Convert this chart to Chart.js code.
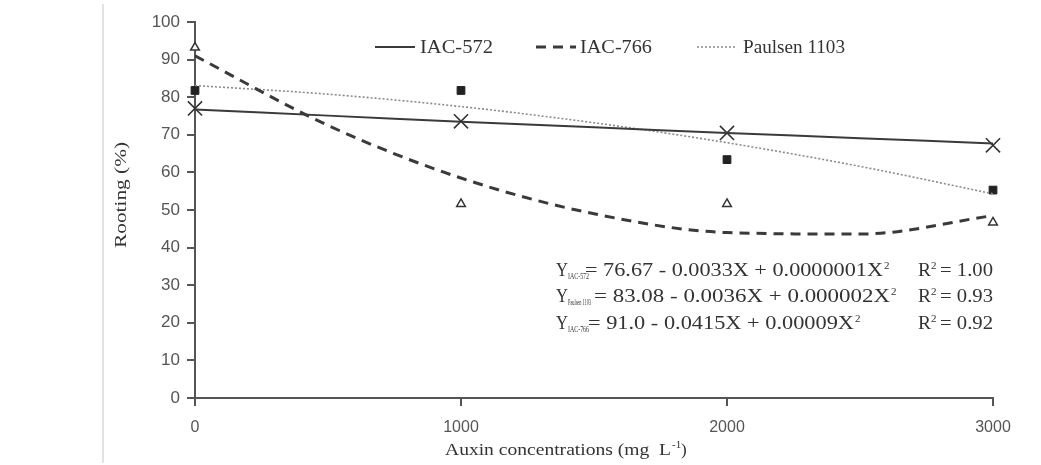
<!DOCTYPE html>
<html>
<head>
<meta charset="utf-8">
<script src="https://cdn.jsdelivr.net/npm/chart.js@4"></script>
<style>
  html, body { margin: 0; padding: 0; background: #fff; }
  #wrap { position: relative; width: 1041px; height: 465px; }
</style>
</head>
<body>
<div id="wrap"><canvas id="rooting"></canvas></div>
<script>
// auxin doses (mg L-1) where cuttings were observed
const doses = [0, 1000, 2000, 3000]

// observed rooting (%)
const obsIAC572 = [77.0, 73.6, 70.5, 67.2]
const obsIAC766 = [93.2, 51.6, 51.6, 46.7]
const obsPaulsen = [81.8, 81.8, 63.4, 55.3]

// fitted curves
const fitX = [0, 500, 1000, 1500, 2000, 2500, 3000]
const fitIAC572 = [76.7, 75.1, 73.5, 72.0, 70.5, 69.1, 67.7]
const fitIAC766 = [91.0, 72.5, 58.5, 49.0, 44.0, 43.6, 48.5]
const fitPaulsen = [83.1, 80.8, 77.5, 73.2, 67.9, 61.6, 54.3]

const seriesNames = ['IAC-572', 'IAC-766', 'Paulsen 1103']
const xTicks = [0, 1000, 2000, 3000]

// regression text shown inside the plot
const equations = [
  { sub: 'IAC-572', body: '= 76.67 - 0.0033X + 0.0000001X', r2: '1.00' },
  { sub: 'Paulsen 1103', body: '= 83.08 - 0.0036X + 0.000002X', r2: '0.93' },
  { sub: 'IAC-766', body: '= 91.0 - 0.0415X + 0.00009X', r2: '0.92' }
]

const toPts = (xs, ys) => xs.map((x, i) => ({ x: x, y: ys[i] }))

const lineStyle = [
  { color: '#3a3a3a', width: 2, dash: [] },
  { color: '#3a3a3a', width: 3, dash: [10, 7] },
  { color: '#8a8a8a', width: 1.6, dash: [2, 2] }
]

const serif = '"Liberation Serif", "Times New Roman", serif'

// the source figure is stretched sideways, so text is squeezed to a target width
function fitText(c, text, x, y, w) {
  const m = c.measureText(text).width
  c.save()
  c.translate(x, y)
  c.scale(w / m, 1)
  c.fillText(text, 0, 0)
  c.restore()
}

const decorPlugin = {
  id: 'decor',
  beforeDraw(chart) {
    const c = chart.ctx
    c.save()
    c.fillStyle = '#fff'
    c.fillRect(0, 0, chart.width, chart.height)
    c.strokeStyle = '#e2e2e2'
    c.lineWidth = 2
    c.beginPath()
    c.moveTo(103, 4)
    c.lineTo(103, 463)
    c.stroke()
    c.restore()
  },
  afterDraw(chart) {
    const c = chart.ctx
    c.save()
    c.fillStyle = '#333'
    c.textAlign = 'left'
    c.textBaseline = 'alphabetic'

    // legend built from the three curve datasets
    const legendX = [375, 536, 697]
    const textX = [420, 580, 743]
    const textW = [73, 72, 102]
    chart.data.datasets.slice(0, 3).forEach((ds, i) => {
      c.save()
      c.strokeStyle = ds.borderColor
      c.lineWidth = ds.borderWidth
      c.setLineDash(ds.borderDash || [])
      c.beginPath()
      c.moveTo(legendX[i], 47)
      c.lineTo(legendX[i] + 40, 47)
      c.stroke()
      c.restore()
      c.font = '18px ' + serif
      fitText(c, ds.label, textX[i], 53, textW[i])
    })

    // equations
    const rows = [276, 302, 329]
    const subW = [21, 23, 21]
    const bodyX = [585, 594, 588]
    const bodyW = [298, 296, 266]
    equations.forEach((eq, i) => {
      const y = rows[i]
      c.font = '18px ' + serif
      fitText(c, 'Y', 556, y, 12)
      c.font = '8px ' + serif
      fitText(c, eq.sub, 568, y + 3, subW[i])
      c.font = '18px ' + serif
      fitText(c, eq.body, bodyX[i], y, bodyW[i])
      c.font = '11px ' + serif
      c.fillText('2', bodyX[i] + bodyW[i] + 1, y - 7)
      c.font = '18px ' + serif
      fitText(c, 'R', 918, y, 13)
      c.font = '11px ' + serif
      c.fillText('2', 931, y - 7)
      c.font = '18px ' + serif
      fitText(c, '= ' + eq.r2, 940, y, 53)
    })

    // axis titles
    c.font = '17px ' + serif
    fitText(c, 'Auxin concentrations (mg  L', 445, 455, 226)
    c.font = '11px ' + serif
    c.fillText('-1', 672, 448)
    c.font = '17px ' + serif
    c.fillText(')', 681, 455)

    c.translate(126, 195)
    c.rotate(-Math.PI / 2)
    c.font = '17px ' + serif
    fitText(c, 'Rooting (%)', -53, 0, 106)
    c.restore()
  }
}

new Chart(document.getElementById('rooting'), {
  type: 'scatter',
  data: {
    datasets: [
      {
        label: seriesNames[0],
        data: toPts(fitX, fitIAC572),
        showLine: true, pointRadius: 0, tension: 0.4,
        borderColor: lineStyle[0].color, borderWidth: lineStyle[0].width, borderDash: lineStyle[0].dash
      },
      {
        label: seriesNames[1],
        data: toPts(fitX, fitIAC766),
        showLine: true, pointRadius: 0, cubicInterpolationMode: 'monotone',
        borderColor: lineStyle[1].color, borderWidth: lineStyle[1].width, borderDash: lineStyle[1].dash
      },
      {
        label: seriesNames[2],
        data: toPts(fitX, fitPaulsen),
        showLine: true, pointRadius: 0, cubicInterpolationMode: 'monotone',
        borderColor: lineStyle[2].color, borderWidth: lineStyle[2].width, borderDash: lineStyle[2].dash
      },
      {
        label: seriesNames[0] + ' obs',
        data: toPts(doses, obsIAC572),
        clip: false,
        pointStyle: 'crossRot', pointRadius: 10, borderWidth: 1.6,
        borderColor: '#333', backgroundColor: '#333'
      },
      {
        label: seriesNames[1] + ' obs',
        data: toPts(doses, obsIAC766),
        clip: false,
        pointStyle: 'triangle', pointRadius: 5, borderWidth: 1.5,
        borderColor: '#333', backgroundColor: '#fff'
      },
      {
        label: seriesNames[2] + ' obs',
        data: toPts(doses, obsPaulsen),
        clip: false,
        pointStyle: 'rect', pointRadius: 5.5, borderWidth: 1,
        borderColor: '#222', backgroundColor: '#222'
      }
    ]
  },
  options: {
    responsive: true,
    maintainAspectRatio: false,
    animation: false,
    layout: { padding: { left: 0, right: 48, top: 22, bottom: 0 } },
    plugins: {
      legend: { display: false },
      title: { display: false },
      tooltip: { enabled: false }
    },
    scales: {
      x: {
        type: 'linear',
        min: 0,
        max: 3000,
        afterBuildTicks: s => { s.ticks = xTicks.map(v => ({ value: v })) },
        afterFit: s => { s.height = 67 },
        border: { color: '#555', width: 2 },
        grid: { drawOnChartArea: false, drawTicks: true, tickLength: 8, color: '#555', lineWidth: 2 },
        ticks: {
          padding: 12,
          color: '#555',
          callback: v => String(v),
          font: { family: '"Liberation Sans", Arial, sans-serif', size: 16 }
        }
      },
      y: {
        min: 0,
        max: 100,
        afterFit: s => { s.width = 195 },
        border: { color: '#555', width: 2 },
        grid: { drawOnChartArea: false, drawTicks: true, tickLength: 8, color: '#555', lineWidth: 2 },
        ticks: {
          stepSize: 10,
          padding: 7,
          color: '#555',
          font: { family: '"Liberation Sans", Arial, sans-serif', size: 17 }
        }
      }
    }
  },
  plugins: [decorPlugin]
})
</script>
</body>
</html>
